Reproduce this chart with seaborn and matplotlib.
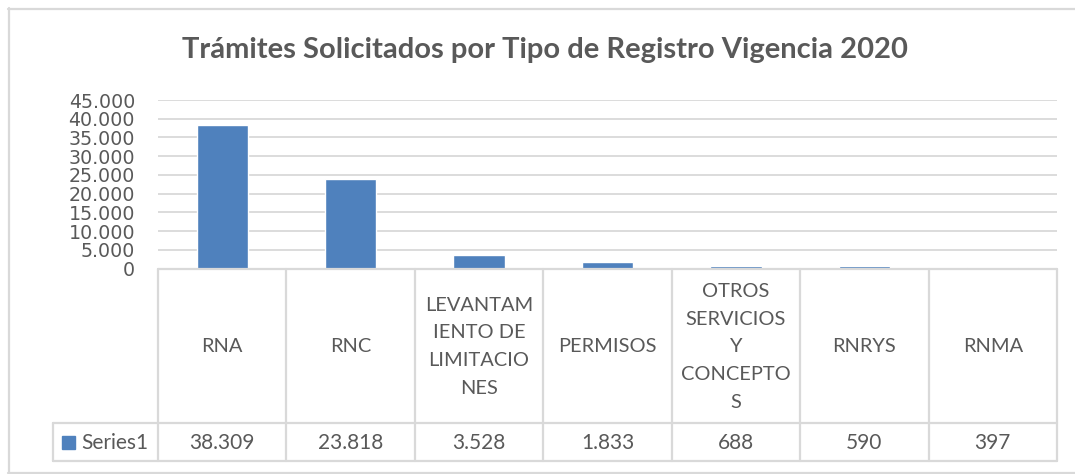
import matplotlib
matplotlib.use("Agg")
import matplotlib.pyplot as plt
import seaborn as sns
from matplotlib.lines import Line2D
from matplotlib.patches import Rectangle

# ---- data ----
categories = ["RNA", "RNC", "LEVANTAMIENTO DE LIMITACIONES", "PERMISOS",
              "OTROS SERVICIOS Y CONCEPTOS", "RNRYS", "RNMA"]
table_labels = ["RNA", "RNC", "LEVANTAM\nIENTO DE\nLIMITACIO\nNES", "PERMISOS",
                "OTROS\nSERVICIOS\nY\nCONCEPTO\nS", "RNRYS", "RNMA"]
values = [38309, 23818, 3528, 1833, 688, 590, 397]
series_name = "Series1"
title = "Trámites Solicitados por Tipo de Registro Vigencia 2020"
yticks = list(range(0, 45001, 5000))

# ---- style ----
W, H = 1075, 474
BAR = "#4f81bd"
GRID = "#d9d9d9"
TXT = "#595959"
LBL_FONT = "Lato"

sns.set_theme(style="white")
plt.rcParams["font.family"] = ["DejaVu Sans"]

fig = plt.figure(figsize=(W / 100, H / 100), dpi=100)

def fx(x):
    return x / W

def fy(y):
    return 1 - y / H

L, R, T, B = 158, 1057, 100, 268.5
ax = fig.add_axes([fx(L), fy(B), fx(R) - fx(L), fy(T) - fy(B)])
sns.barplot(x=categories, y=values, color=BAR, saturation=1, width=0.4, ax=ax, zorder=3)
ax.set_xlim(-0.5, len(categories) - 0.5)
ax.set_ylim(0, 45000)
ax.set_yticks(yticks)
ax.set_yticklabels([f"{v:,}".replace(",", ".") for v in yticks], color=TXT, fontsize=13.7)
ax.set_xticks([])
ax.set_xlabel("")
ax.set_ylabel("")
ax.tick_params(axis="y", length=0, pad=16.5)
for v in yticks[1:]:
    ax.axhline(v, color=GRID, lw=1.3, zorder=1)
for s in ax.spines.values():
    s.set_visible(False)
ax.patch.set_alpha(0)

def line(x0, y0, x1, y1, lw=1.6):
    fig.add_artist(Line2D([fx(x0), fx(x1)], [fy(y0), fy(y1)], color=GRID, lw=lw,
                          transform=fig.transFigure, zorder=5))

# outer chart border
line(8, 8.5, W + 5, 8.5)
line(8.5, 8, 8.5, 473)
line(8, 472.5, W + 5, 472.5)

# title
fig.text(fx(545), fy(58), title, ha="center", va="baseline", fontsize=21,
         fontweight="bold", color=TXT, family=LBL_FONT)

# data table
top, mid, bot = 268.5, 423, 460.5
leg_left = 53
ncol = len(categories)
colw = (R - L) / ncol
line(L, top, R, top)
line(leg_left, mid, R, mid)
line(leg_left, bot, R, bot)
line(leg_left, mid, leg_left, bot)
for i in range(ncol + 1):
    xx = L + i * colw
    line(xx, top, xx, bot)

FS = 14.4
for i, (lab, val) in enumerate(zip(table_labels, values)):
    cx = L + (i + 0.5) * colw
    fig.text(fx(cx), fy((top + mid) / 2 + 1), lab, ha="center", va="center",
             fontsize=FS, color=TXT, family=LBL_FONT, linespacing=1.76)
    fig.text(fx(cx), fy((mid + bot) / 2 + 1), f"{val:,}".replace(",", "."),
             ha="center", va="center", fontsize=FS + 0.6, color=TXT, family=LBL_FONT)

# legend key in the table
fig.add_artist(Rectangle((fx(62), fy(448.5)), fx(13), fy(436) - fy(448.5),
                         transform=fig.transFigure, color=BAR, zorder=6))
fig.text(fx(81), fy((mid + bot) / 2 + 1), series_name, ha="left", va="center",
         fontsize=FS + 0.6, color=TXT, family=LBL_FONT)

fig.savefig("out.png", dpi=100)
